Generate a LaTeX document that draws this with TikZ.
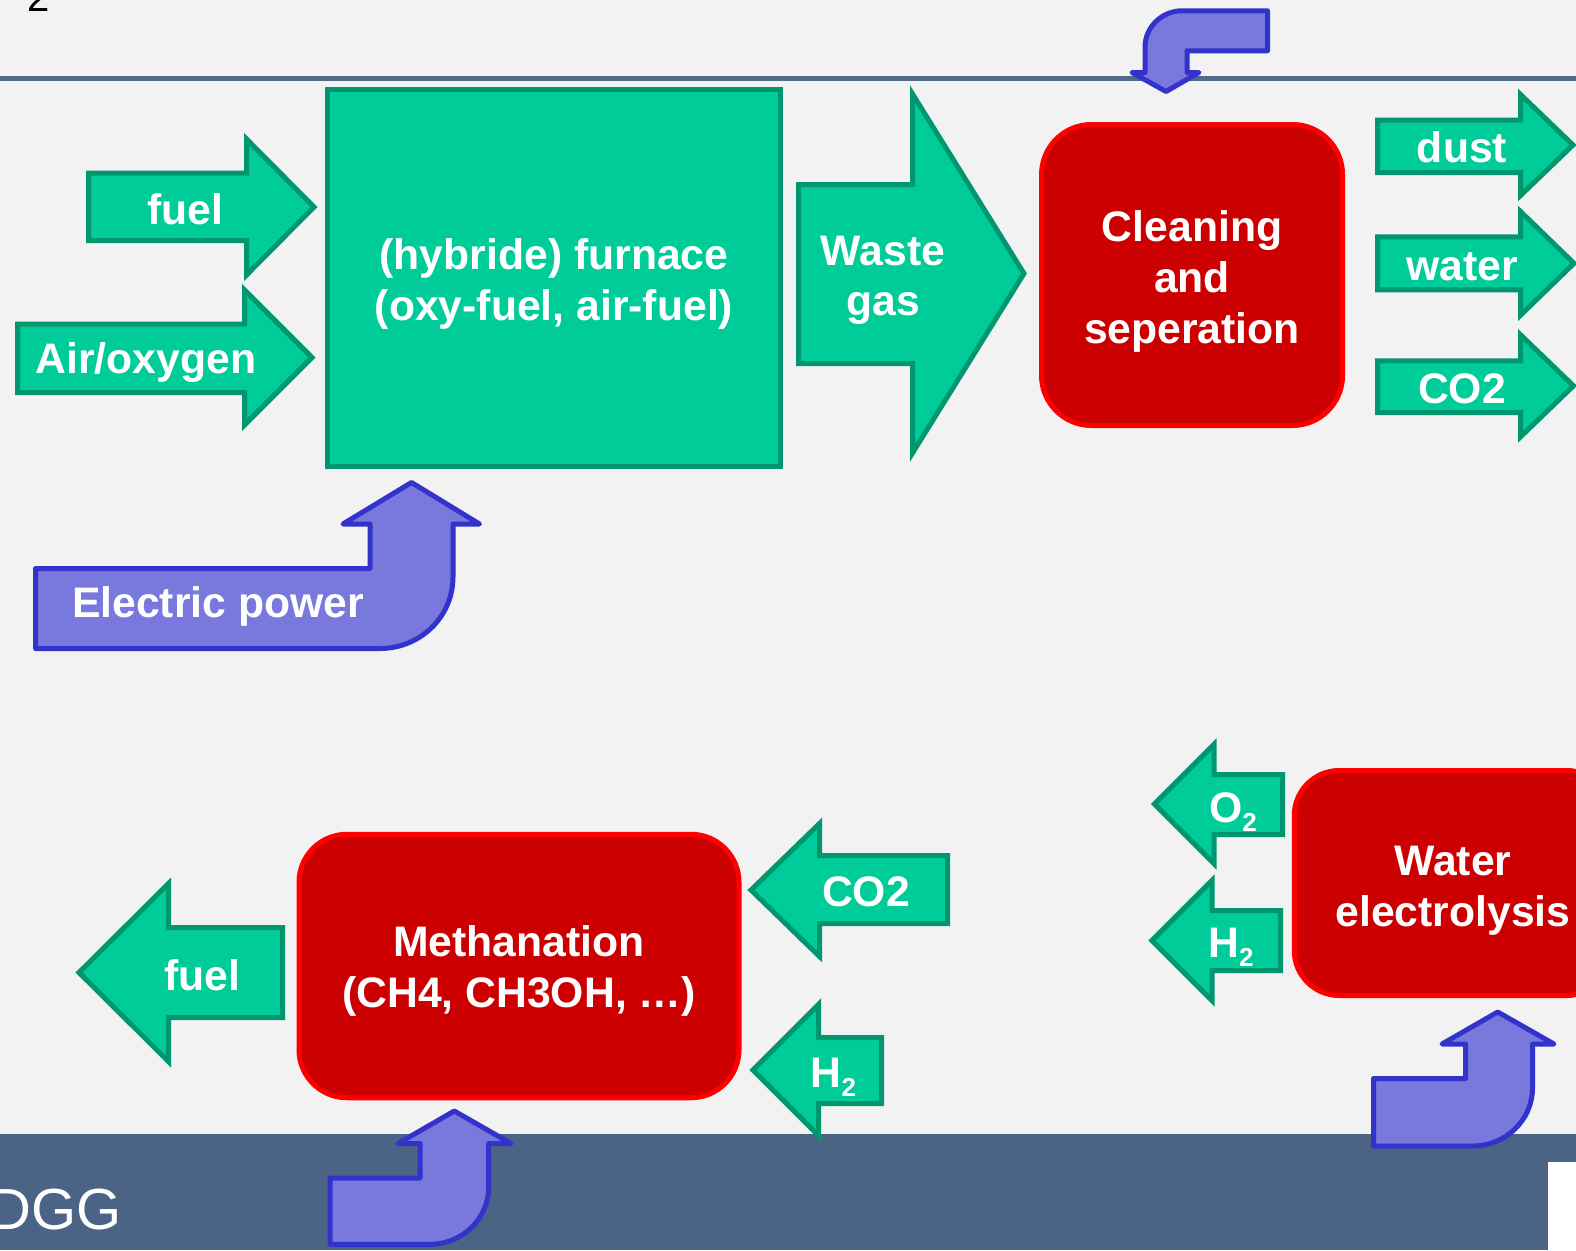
\documentclass[tikz,border=0pt]{standalone}
\usepackage{fontspec}
\setmainfont{Liberation Sans}
\definecolor{bggray}{RGB}{242,242,242}
\definecolor{slate}{RGB}{75,99,132}
\definecolor{rulecol}{RGB}{84,106,138}
\definecolor{gfill}{RGB}{0,204,153}
\definecolor{gline}{RGB}{0,150,112}
\definecolor{rfill}{RGB}{204,0,0}
\definecolor{rline}{RGB}{255,0,0}
\definecolor{bfill}{RGB}{120,120,221}
\definecolor{bline}{RGB}{51,51,204}
\newcommand\lblfont{\fontsize{42.7}{51}\selectfont\bfseries}
% struts that fix the first line's height and the last line's depth
\newcommand\tstrut[1]{\rule{0pt}{#1}}
\newcommand\bstrut{\rule[-9pt]{0pt}{9pt}}
\newcommand\subtwo{\raisebox{-9pt}{\fontsize{26}{26}\selectfont 2}}
\tikzset{
  greenarrow/.style={fill=gfill, draw=gline, line width=5pt, line join=miter},
  bluearrow/.style={fill=bfill, draw=bline, line width=5pt, line join=round},
  lbl/.style={text=white, font=\lblfont, inner sep=0pt, anchor=base},
  mlbl/.style={text=white, font=\lblfont, inner sep=0pt, align=center},
  greenbox/.style={rectangle, fill=gfill, draw=gline, line width=5pt,
    text=white, font=\lblfont, align=center},
  redbox/.style={rectangle, rounded corners=#1, fill=rfill, draw=rline,
    line width=5pt, text=white, font=\lblfont, align=center},
}
\begin{document}
\begin{tikzpicture}[x=1pt, y=-1pt]
\useasboundingbox (0,0) rectangle (1576,1250);
\clip (0,0) rectangle (1576,1250);
% slide background, header rule and footer band
\fill[bggray] (0,0) rectangle (1576,1250);
\draw[rulecol, line width=4.5pt] (0,78.5) -- (1576,78.5);
\fill[slate] (0,1134) rectangle (1576,1250);
\fill[white] (1548,1162) rectangle (1576,1250);
\node[anchor=base west, inner sep=0pt, font=\fontsize{40}{40}\selectfont] (pagenum) at (27,11.5) {2};
\node[anchor=base west, inner sep=0pt, text=white, font=\fontsize{58}{58}\selectfont] (footer) at (-11,1229) {DGG};

% ---------- furnace and its inputs ----------
\node[greenbox, minimum width=453pt, minimum height=376.5pt] (furnace) at (554,277.8)
  {\tstrut{44pt}(hybride) furnace\\(oxy-fuel, air-fuel)\bstrut};

\draw[greenarrow] (88.5,173) -- (246.5,173) -- (246.5,139) -- (314,207)
  -- (246.5,275) -- (246.5,240.5) -- (88.5,240.5) -- cycle;
\node[lbl] (fuelin) at (185,224) {fuel};

\draw[greenarrow] (17.5,324) -- (244.5,324) -- (244.5,290) -- (312,357.5)
  -- (244.5,425) -- (244.5,392.5) -- (17.5,392.5) -- cycle;
\node[lbl] (airin) at (146,373) {Air/oxygen};

\draw[bluearrow] (35.5,568.5) -- (370,568.5) -- (370,524) -- (343,524)
  -- (411.5,482.5) -- (479.5,524) -- (453,524) -- (453,577)
  .. controls (453,617) and (420,648.5) .. (380,648.5) -- (35.5,648.5) -- cycle;
\node[lbl] (power) at (218,617) {Electric power};

% ---------- waste gas to cleaning ----------
\draw[greenarrow] (798.5,184.5) -- (912.5,184.5) -- (912.5,94) -- (1024,273.5)
  -- (912.5,453) -- (912.5,363.5) -- (798.5,363.5) -- cycle;
\node[mlbl, font=\fontsize{42.7}{50}\selectfont\bfseries] (waste) at (883,276)
  {\tstrut{38pt}Waste\\gas\bstrut};

\node[redbox=50pt, minimum width=301pt, minimum height=301pt] (cleaning) at (1192,275)
  {\tstrut{44pt}Cleaning\\and\\seperation\bstrut};

\draw[bluearrow] (1267.5,10.8) -- (1267.5,50.8) -- (1187,50.8) -- (1187,72.5)
  -- (1199,72.5) -- (1166,91.5) -- (1132,72.5) -- (1145,72.5) -- (1145,47)
  .. controls (1145,27) and (1162,10.8) .. (1182,10.8) -- cycle;

% outputs of cleaning
\draw[greenarrow] (1377.5,120) -- (1520.5,120) -- (1520.5,94.5) -- (1573,145)
  -- (1520.5,195.5) -- (1520.5,172.5) -- (1377.5,172.5) -- cycle;
\node[lbl] (dust) at (1462,162) {dust};

\draw[greenarrow] (1377.5,236.8) -- (1520.5,236.8) -- (1520.5,211.5) -- (1574,263.3)
  -- (1520.5,315.2) -- (1520.5,289.8) -- (1377.5,289.8) -- cycle;
\node[lbl] (water) at (1462,280) {water};

\draw[greenarrow] (1377.5,360.8) -- (1520.5,360.8) -- (1520.5,334.8) -- (1573.5,385.8)
  -- (1520.5,436.8) -- (1520.5,412.5) -- (1377.5,412.5) -- cycle;
\node[lbl] (co2out) at (1462,403) {CO2};

% ---------- methanation ----------
\node[redbox=48pt, minimum width=440pt, minimum height=263.5pt] (methanation) at (519,966)
  {\tstrut{40pt}Methanation\\(CH4, CH3OH, \ldots)\bstrut};

\draw[greenarrow] (282.5,927.5) -- (168.5,927.5) -- (168.5,883.5) -- (79,972.5)
  -- (168.5,1061.5) -- (168.5,1017.5) -- (282.5,1017.5) -- cycle;
\node[lbl] (fuelout) at (202,990) {fuel};

\draw[greenarrow] (947.5,855.5) -- (819.5,855.5) -- (819.5,823.5) -- (751,890)
  -- (819.5,956.5) -- (819.5,923.5) -- (947.5,923.5) -- cycle;
\node[lbl] (co2in) at (866,906) {CO2};

\draw[greenarrow] (881.5,1037.5) -- (818.5,1037.5) -- (818.5,1004.5) -- (753,1070)
  -- (818.5,1135.5) -- (818.5,1103.5) -- (881.5,1103.5) -- cycle;
\node[lbl] (h2in) at (833.5,1087) {H\subtwo};

\draw[bluearrow] (330,1178) -- (420,1178) -- (420,1143.5) -- (398,1143.5)
  -- (454.3,1111) -- (511,1143.5) -- (488.7,1143.5) -- (488.7,1187)
  .. controls (488.7,1219) and (462,1244.3) .. (430,1244.3) -- (330,1244.3) -- cycle;

% ---------- water electrolysis ----------
\node[redbox=45pt, minimum width=317.5pt, minimum height=225pt] (electrolysis) at (1453,883)
  {\tstrut{44pt}Water\\electrolysis\bstrut};

\draw[greenarrow] (1282.5,774.5) -- (1214,774.5) -- (1214,744.5) -- (1154.5,804)
  -- (1214,863.5) -- (1214,834.5) -- (1282.5,834.5) -- cycle;
\node[lbl] (o2out) at (1233,822) {O\subtwo};

\draw[greenarrow] (1280.5,910.5) -- (1212,910.5) -- (1212,880.5) -- (1152,940.5)
  -- (1212,1000.5) -- (1212,970.5) -- (1280.5,970.5) -- cycle;
\node[lbl] (h2out) at (1231,957) {H\subtwo};

\draw[bluearrow] (1373.5,1078.5) -- (1465.5,1078.5) -- (1465.5,1044) -- (1442,1044)
  -- (1497.7,1012) -- (1554,1044) -- (1532.5,1044) -- (1532.5,1088)
  .. controls (1532.5,1120) and (1505.5,1146) .. (1473,1146) -- (1373.5,1146) -- cycle;
\end{tikzpicture}
\end{document}
